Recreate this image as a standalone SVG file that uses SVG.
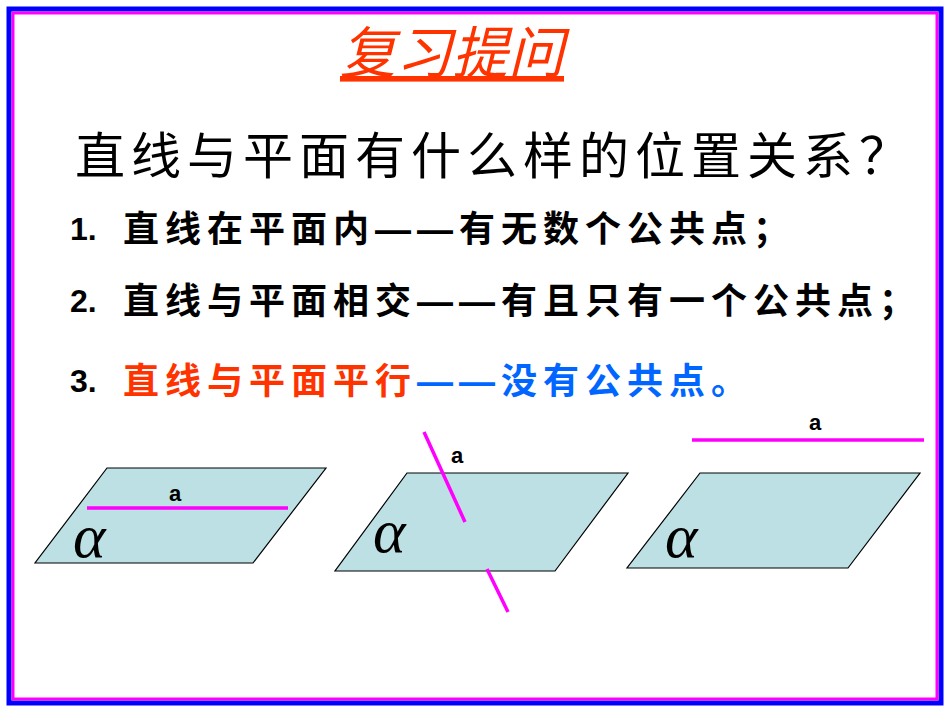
<svg xmlns="http://www.w3.org/2000/svg" width="950" height="713" viewBox="0 0 950 713">
<style>
.t{font-family:"Liberation Sans","Noto Sans CJK SC",sans-serif;font-weight:bold;font-size:36px;letter-spacing:6px}
.n{font-family:"Liberation Sans",sans-serif;font-weight:bold;font-size:32px}
.pl{fill:#BCE0E3;stroke:#000;stroke-width:1.2}
.ln{stroke:#FF00FF;stroke-width:3.5}
.a{font-family:"Liberation Sans",sans-serif;font-weight:bold;font-size:22px}
.al{font-family:"Liberation Serif",serif;font-style:italic;font-size:62px}
</style>
<rect x="0" y="0" width="950" height="713" fill="#fff"/>
<rect x="9" y="9" width="932" height="694" fill="none" stroke="#0000FF" stroke-width="5"/>
<rect x="13" y="13" width="924" height="686" fill="none" stroke="#FF00FF" stroke-width="3"/>
<g id="title"><text x="452" y="73" text-anchor="middle" font-family="Noto Sans CJK SC,sans-serif" font-style="italic" font-size="56" fill="#FF3300" text-decoration="underline">复习提问</text></g>
<g id="question"><text x="75" y="174" font-family="Noto Sans CJK SC,sans-serif" font-size="50" letter-spacing="6">直线与平面有什么样的位置关系？</text></g>
<g id="l1"><text class="n" x="70" y="240">1.</text><text class="t" x="123" y="242">直线在平面内——有无数个公共点；</text></g>
<g id="l2"><text class="n" x="70" y="312">2.</text><text class="t" x="123" y="314">直线与平面相交——有且只有一个公共点；</text></g>
<g id="l3"><text class="n" x="70" y="392">3.</text><text class="t" x="123" y="394"><tspan fill="#FF3300">直线与平面平行</tspan><tspan fill="#0066FF">——没有公共点。</tspan></text></g>
<g id="p1"><polygon class="pl" points="107,468 326,468 253,563 35,563"/><line class="ln" x1="87" y1="508" x2="288" y2="508"/><text class="a" x="175" y="501" text-anchor="middle">a</text><text class="al" x="73" y="557">α</text></g>
<g id="p2"><polygon class="pl" points="407,473 628,473 555,571 335,571"/><line class="ln" x1="424" y1="432" x2="465" y2="522"/><line class="ln" x1="487" y1="569" x2="508" y2="612"/><text class="a" x="457" y="463" text-anchor="middle">a</text><text class="al" x="373" y="552">α</text></g>
<g id="p3"><polygon class="pl" points="700,473 920,473 848,568 627,568"/><line class="ln" x1="692" y1="440" x2="924" y2="440"/><text class="a" x="815" y="430" text-anchor="middle">a</text><text class="al" x="665" y="557">α</text></g>
</svg>
